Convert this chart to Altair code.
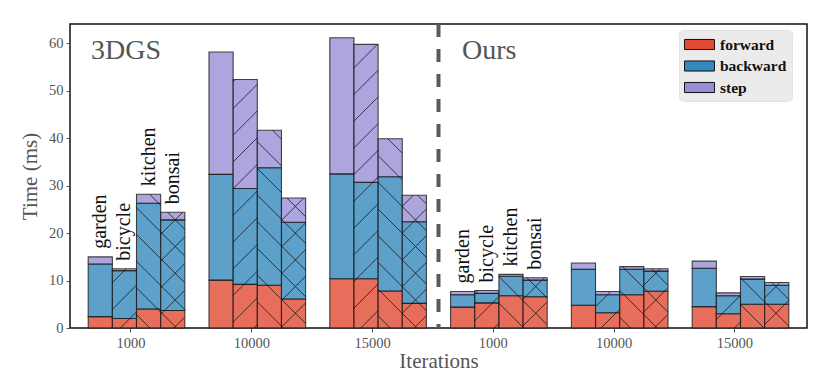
import math
import altair as alt
import pandas as pd

# ---------------- data ----------------
methods = ["3DGS", "Ours"]
iterations = ["1000", "10000", "15000"]
scenes = ["garden", "bicycle", "kitchen", "bonsai"]
parts = ["forward", "backward", "step"]
colors = ["#E24A33", "#348ABD", "#988ED5"]
hatches = ["", "/", "\\", "x"]

# [method][iteration][scene], time in ms
forward = [
    [[2.4, 2.0, 4.0, 3.7], [10.1, 9.2, 9.0, 6.1], [10.4, 10.4, 7.8, 5.2]],
    [[4.4, 5.3, 6.8, 6.6], [4.8, 3.2, 7.0, 7.75], [4.5, 3.0, 5.0, 5.0]],
]
backward = [
    [[11.1, 10.1, 22.3, 19.1], [22.3, 20.2, 24.8, 16.2], [22.1, 20.3, 24.1, 17.2]],
    [[2.6, 2.0, 4.1, 3.5], [7.6, 3.8, 5.4, 4.25], [8.1, 3.8, 5.3, 4.0]],
]
step = [
    [[1.5, 0.4, 1.9, 1.6], [25.8, 23.0, 7.9, 5.1], [28.7, 29.1, 8.0, 5.6]],
    [[0.7, 0.6, 0.4, 0.5], [1.3, 0.7, 0.55, 0.5], [1.5, 0.6, 0.55, 0.6]],
]

# ---------------- layout ----------------
W, H = 737, 304
GROUP = 5
XMIN, XMAX = -0.753, 29.753
YMIN, YMAX = 0.0, 64.1
SX = W / (XMAX - XMIN)
SY = H / (YMAX - YMIN)
HSP = 26.7          # hatch spacing in px
PH1, PH2 = 7.3, 16.2
FONT = "Liberation Serif"

bars, hatch_rows, labels = [], [], []
for m in range(len(methods)):
    for it in range(len(iterations)):
        g = m * len(iterations) + it
        for s, scene in enumerate(scenes):
            x0 = g * GROUP + s
            vals = [forward[m][it][s], backward[m][it][s], step[m][it][s]]
            base = 0.0
            for p, part in enumerate(parts):
                top = base + vals[p]
                bars.append(dict(x=x0, x2=x0 + 1, y=base, y2=top, part=part))
                # hatch segments, computed in pixel space so they are at 45 degrees
                kind = hatches[s]
                X0, X1 = (x0 - XMIN) * SX, (x0 + 1 - XMIN) * SX
                Yt, Yb = (YMAX - top) * SY, (YMAX - base) * SY
                segs = []
                if kind in ("/", "x"):
                    k = math.ceil((X0 + Yt - PH1) / HSP)
                    c = PH1 + k * HSP
                    while c <= X1 + Yb:
                        xa, xb = max(X0, c - Yb), min(X1, c - Yt)
                        if xb - xa > 0.3:
                            segs.append((xa, c - xa, xb, c - xb))
                        c += HSP
                if kind in ("\\", "x"):
                    k = math.ceil((X0 - Yb - PH2) / HSP)
                    c = PH2 + k * HSP
                    while c <= X1 - Yt:
                        xa, xb = max(X0, c + Yt), min(X1, c + Yb)
                        if xb - xa > 0.3:
                            segs.append((xa, xa - c, xb, xb - c))
                        c += HSP
                for (a, b, cc, d) in segs:
                    hatch_rows.append(dict(
                        x=XMIN + a / SX, y=YMAX - b / SY,
                        x2=XMIN + cc / SX, y2=YMAX - d / SY))
                base = top
            if it == 0:
                labels.append(dict(x=x0 + 0.5, y=base, text=scene))

bars_df = pd.DataFrame(bars)
hatch_df = pd.DataFrame(hatch_rows)
labels_df = pd.DataFrame(labels)

tick_vals = [g * GROUP + 1.75 for g in range(len(methods) * len(iterations))]
tick_names = iterations * len(methods)
label_expr = "[" + ",".join("'%s'" % t for t in tick_names) + "][round((datum.value - 1.75) / %d)]" % GROUP

xscale = alt.Scale(domain=[XMIN, XMAX], nice=False, zero=False)
yscale = alt.Scale(domain=[YMIN, YMAX], nice=False)
xaxis = alt.Axis(values=tick_vals, labelExpr=label_expr, title="Iterations",
                 labelPadding=4, titlePadding=1)
yaxis = alt.Axis(values=[0, 10, 20, 30, 40, 50, 60], title="Time (ms)",
                 labelPadding=3, titlePadding=8)


def X(field="x"):
    return alt.X(field, type="quantitative", scale=xscale, axis=xaxis)


def Y(field="y"):
    return alt.Y(field, type="quantitative", scale=yscale, axis=yaxis)


bar_layer = alt.Chart(bars_df).mark_rect(
    fillOpacity=0.8, stroke="#1a1a1a", strokeWidth=1.1, strokeOpacity=0.8
).encode(
    x=X(), x2="x2", y=Y(), y2="y2",
    fill=alt.Fill("part:N", scale=alt.Scale(domain=parts, range=colors),
                  legend=alt.Legend(title=None, orient="none", legendX=609, legendY=6,
                                    fillColor="#ebebeb", cornerRadius=4, padding=5,
                                    strokeColor="#e2e2e2",
                                    symbolType="M-1,-0.56H2.33V0.56H-1Z", symbolSize=324,
                                    symbolStrokeColor="#111", symbolStrokeWidth=1,
                                    symbolOpacity=1, labelFont=FONT, labelFontSize=15.5,
                                    labelFontWeight="bold", labelColor="#111",
                                    labelOffset=17, rowPadding=3.5)),
)

hatch_layer = alt.Chart(hatch_df).mark_rule(
    color="#111", strokeWidth=0.9, opacity=0.85
).encode(x=X(), x2="x2", y=Y(), y2="y2")

sep_layer = alt.Chart(pd.DataFrame({"x": [3 * GROUP - 0.5]})).mark_rule(
    color="#5a5a5a", strokeWidth=4, strokeDash=[13, 12]
).encode(x=X())

scene_text = alt.Chart(labels_df).mark_text(
    angle=270, align="left", baseline="middle", dx=8,
    font=FONT, fontSize=20, color="#111"
).encode(x=X(), y=Y(), text="text:N")

method_text = alt.Chart(pd.DataFrame({"x": [0.12, 15.47], "y": [56.8, 56.8], "text": methods})).mark_text(
    align="left", baseline="alphabetic", font=FONT, fontSize=28, color="#555"
).encode(x=X(), y=Y(), text="text:N")

chart = alt.layer(bar_layer, hatch_layer, sep_layer, scene_text, method_text).properties(
    width=W, height=H,
    autosize=alt.AutoSizeParams(type="none"),
    padding={"left": 62, "top": 16, "right": 16, "bottom": 44},
).configure_view(
    stroke="#111", strokeWidth=1.5
).configure_axis(
    domain=False, grid=False, tickColor="#555", tickSize=4, tickWidth=1,
    labelColor="#555", labelFont=FONT, labelFontSize=14.5,
    titleColor="#555", titleFont=FONT, titleFontSize=21, titleFontWeight="normal",
)

chart.save("out.html", embed_options={"renderer": "svg", "actions": False})
